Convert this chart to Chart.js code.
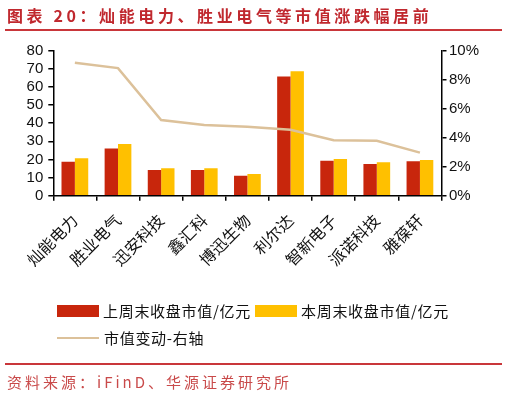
<!DOCTYPE html>
<html>
<head>
<meta charset="utf-8">
<script src="https://cdn.jsdelivr.net/npm/chart.js@4/dist/chart.umd.min.js"></script>
<style>
  body { margin: 0; width: 507px; height: 397px; background: #fff; position: relative; overflow: hidden;
         font-family: "Noto Sans CJK SC", "Liberation Sans", sans-serif; }
  #wrap { position: absolute; left: 0; top: 0; width: 507px; height: 397px; }
  .title { position: absolute; left: 7px; top: 4px; font-size: 16px; font-weight: bold; color: #c0282e;
           letter-spacing: 3.6px; line-height: 22px; white-space: nowrap; }
  .rule { position: absolute; left: 5px; width: 497px; height: 2px; background: #c9363a; }
  .src { position: absolute; left: 7px; top: 372px; font-size: 15px; color: #c94a4a; letter-spacing: 3px;
         line-height: 20px; white-space: nowrap; }
  .lg { position: absolute; font-size: 15px; color: #111; line-height: 18px; white-space: nowrap; letter-spacing: 0.7px; }
  .box { position: absolute; width: 42px; height: 12px; }
  .ln { position: absolute; width: 42px; height: 2px; }
</style>
</head>
<body>
<div id="wrap"><canvas id="myChart" width="507" height="397"></canvas></div>

<div class="title">图表 20：灿能电力、胜业电气等市值涨跌幅居前</div>
<div class="rule" style="top:29px"></div>

<div class="box" style="left:57px;top:305px;background:#c8260c"></div>
<div class="lg" style="left:103px;top:302px">上周末收盘市值/亿元</div>
<div class="box" style="left:255px;top:305px;background:#ffc000"></div>
<div class="lg" style="left:301px;top:302px">本周末收盘市值/亿元</div>
<div class="ln" style="left:57px;top:337px;background:#dcc19a"></div>
<div class="lg" style="left:104px;top:329px">市值变动-右轴</div>

<div class="rule" style="top:363px"></div>
<div class="src">资料来源：iFinD、华源证券研究所</div>

<script>
// 公司名称
const empresas = ['灿能电力', '胜业电气', '迅安科技', '鑫汇科', '博迅生物', '利尔达', '智新电子', '派诺科技', '雅葆轩'];

// 市值 (亿元)
const mvSemanaPasada = [18.8, 26.1, 14.2, 14.2, 11.0, 65.7, 19.3, 17.5, 19.0];
const mvEstaSemana = [20.6, 28.5, 15.1, 15.1, 12.0, 68.6, 20.2, 18.4, 19.7];

// 市值变动 (%)
const cambioMV = [9.17, 8.8, 5.22, 4.88, 4.75, 4.55, 3.82, 3.79, 2.97];

const etiquetas = ['上周末收盘市值/亿元', '本周末收盘市值/亿元', '市值变动-右轴'];

const fuenteNum = { family: '"Liberation Sans", Arial, sans-serif', size: 15 };
const fuenteCat = { family: '"Noto Sans CJK SC", sans-serif', size: 16 };

function crearGrafico() {
    const ctx = document.getElementById('myChart').getContext('2d');

    new Chart(ctx, {
        type: 'bar',
        data: {
            labels: empresas,
            datasets: [
                {
                    type: 'line',
                    label: etiquetas[2],
                    data: cambioMV,
                    yAxisID: 'y2',
                    borderColor: '#dcc19a',
                    borderWidth: 2.5,
                    pointRadius: 0,
                    tension: 0,
                    fill: false,
                    order: 0
                },
                {
                    label: etiquetas[0],
                    data: mvSemanaPasada,
                    backgroundColor: '#c8260c',
                    yAxisID: 'y',
                    order: 1
                },
                {
                    label: etiquetas[1],
                    data: mvEstaSemana,
                    backgroundColor: '#ffc000',
                    yAxisID: 'y',
                    order: 1
                }
            ]
        },
        options: {
            responsive: false,
            animation: false,
            datasets: {
                bar: { categoryPercentage: 0.62, barPercentage: 1.0 }
            },
            layout: {
                padding: { top: 50.7, left: 0, right: 0, bottom: 121.3 }
            },
            scales: {
                x: {
                    grid: { drawOnChartArea: false, tickLength: 5, color: '#000', lineWidth: 1.5 },
                    border: { color: '#000', width: 1.5 },
                    ticks: {
                        maxRotation: 45,
                        minRotation: 45,
                        padding: 10,
                        color: '#111',
                        font: fuenteCat,
                        autoSkip: false
                    },
                    afterFit: (scale) => { scale.height = 80; }
                },
                y: {
                    position: 'left',
                    min: 0,
                    max: 80,
                    grid: { drawOnChartArea: false, tickLength: 5, color: '#000', lineWidth: 1.5 },
                    border: { color: '#000', width: 1.5 },
                    ticks: { stepSize: 10, autoSkip: false, padding: 5, color: '#111', font: fuenteNum },
                    afterFit: (scale) => { scale.width = 53.3; }
                },
                y2: {
                    position: 'right',
                    min: 0,
                    max: 10,
                    grid: { drawOnChartArea: false, tickLength: 5, color: '#000', lineWidth: 1.5 },
                    border: { color: '#000', width: 1.5 },
                    ticks: {
                        stepSize: 2,
                        autoSkip: false,
                        padding: 2.5,
                        color: '#111',
                        font: fuenteNum,
                        callback: (v) => v + '%'
                    },
                    afterFit: (scale) => { scale.width = 65.5; }
                }
            },
            plugins: {
                legend: { display: false },
                tooltip: { enabled: false }
            }
        }
    });
}

crearGrafico();
</script>
</body>
</html>
